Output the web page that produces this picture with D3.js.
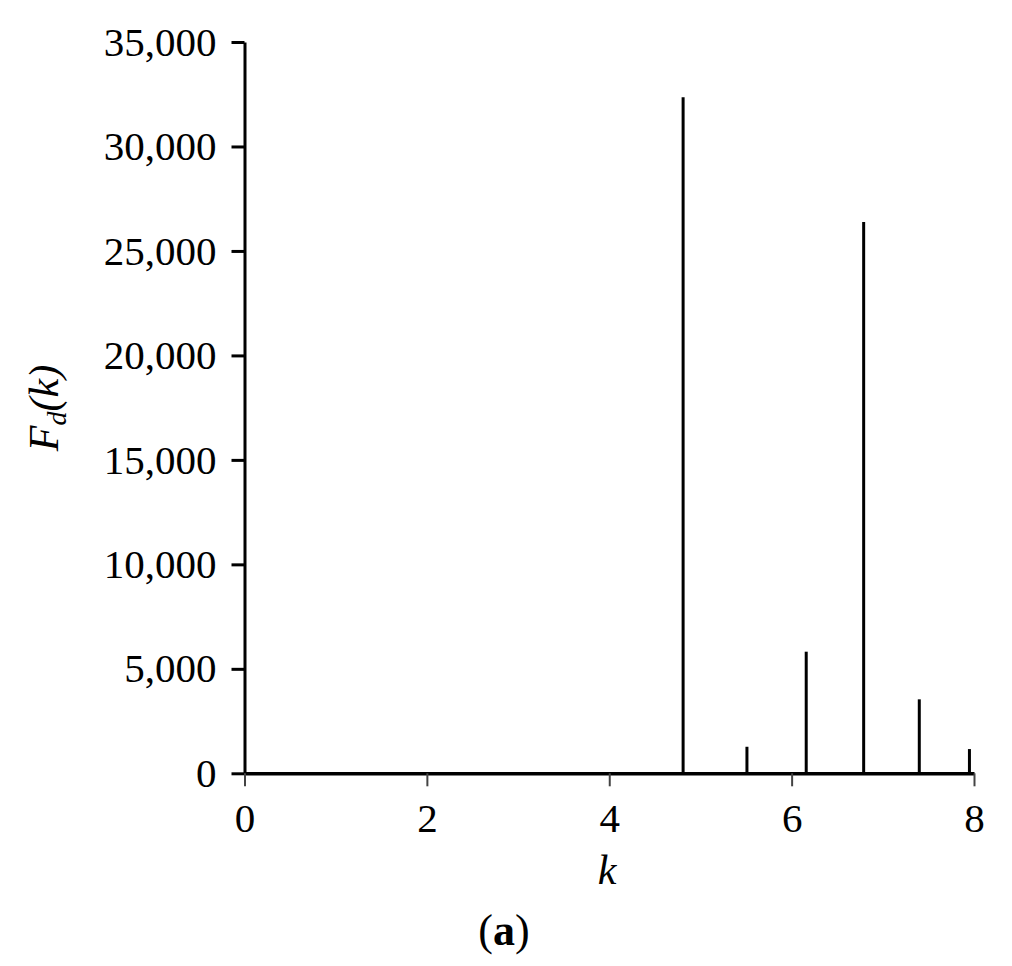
<!DOCTYPE html>
<html>
<head>
<meta charset="utf-8">
<script src="https://cdn.jsdelivr.net/npm/d3@7"></script>
<style>
  html, body { margin: 0; padding: 0; background: #fff; }
  svg { display: block; }
  text { font-family: "Liberation Serif", "Times New Roman", serif; fill: #000; }
</style>
</head>
<body>
<svg id="chart" width="1012" height="966"></svg>
<script>
const kValues = [4.81, 5.51, 6.16, 6.79, 7.40, 7.95];
const fdValues = [32350, 1270, 5820, 26380, 3540, 1160];
const xTicks = [0, 2, 4, 6, 8];
const yTicks = [0, 5000, 10000, 15000, 20000, 25000, 30000, 35000];

const svg = d3.select("#chart");
const x = d3.scaleLinear().domain([0, 8]).range([244.5, 974]);
const y = d3.scaleLinear().domain([0, 35000]).range([773.3, 42]);

const yAxis = d3.axisLeft(y).tickValues(yTicks).tickFormat(d3.format(",")).tickSize(13).tickPadding(15).tickSizeOuter(0);
const gy = svg.append("g").attr("transform", `translate(${x(0)},0)`).call(yAxis);
gy.select(".domain").attr("stroke", "#000").attr("stroke-width", 3);
gy.selectAll(".tick line").attr("stroke", "#000").attr("stroke-width", 3);
gy.selectAll(".tick text").attr("font-size", 41).style("font-family", "'Liberation Serif', serif");

const xAxis = d3.axisBottom(x).tickValues(xTicks).tickFormat(d3.format("d")).tickSize(13).tickPadding(17).tickSizeOuter(0);
const gx = svg.append("g").attr("transform", `translate(0,${y(0)})`).call(xAxis);
gx.select(".domain").attr("stroke", "#000").attr("stroke-width", 3.5);
gx.selectAll(".tick line").attr("stroke", "#444").attr("stroke-width", 2);
gx.selectAll(".tick text").attr("font-size", 41).style("font-family", "'Liberation Serif', serif");

// stems
svg.append("g").selectAll("line.stem")
  .data(kValues.map((k, i) => ({k, v: fdValues[i]})))
  .join("line")
  .attr("class", "stem")
  .attr("x1", d => x(d.k)).attr("x2", d => x(d.k))
  .attr("y1", y(0)).attr("y2", d => y(d.v))
  .attr("stroke", "#000").attr("stroke-width", 3);

// x label
svg.append("text")
  .attr("x", 607).attr("y", 884)
  .attr("text-anchor", "middle")
  .attr("font-size", 42).attr("font-style", "italic")
  .text("k");

// y label
const yl = svg.append("text")
  .attr("transform", "translate(58,408) rotate(-90)")
  .attr("text-anchor", "middle")
  .attr("font-size", 42).attr("font-style", "italic");
yl.append("tspan").text("F");
yl.append("tspan").attr("font-size", 28).attr("dy", 8).text("d");
yl.append("tspan").attr("dy", -8).text("(k)");

// caption
const cap = svg.append("text")
  .attr("x", 504).attr("y", 945)
  .attr("text-anchor", "middle")
  .attr("font-size", 44);
cap.append("tspan").text("(");
cap.append("tspan").attr("font-weight", "bold").text("a");
cap.append("tspan").text(")");
</script>
</body>
</html>
